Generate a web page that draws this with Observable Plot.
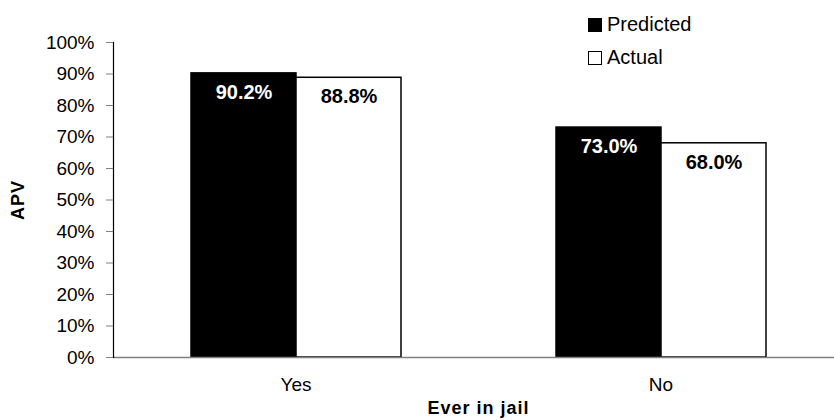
<!DOCTYPE html>
<html>
<head>
<meta charset="utf-8">
<script src="https://cdn.jsdelivr.net/npm/d3@7"></script>
<script src="https://cdn.jsdelivr.net/npm/@observablehq/plot@0.6"></script>
<style>
  body { margin: 0; background: #fff; font-family: "Liberation Sans", Arial, sans-serif; }
  #wrap { position: relative; width: 834px; height: 420px; }
  #legend { position: absolute; left: 588px; top: 8px; font-size: 20px; color: #000; line-height: 33px; }
  #legend .item { display: flex; align-items: center; white-space: nowrap; }
  #legend .sw { width: 12px; height: 12px; border: 1px solid #000; margin-right: 5px; box-sizing: content-box; }
  svg { overflow: visible; }
</style>
</head>
<body>
<div id="wrap"></div>
<script>
const categories = ["Yes", "No"];
const series = ["Predicted", "Actual"];
const predicted = [0.902, 0.730];
const actual = [0.888, 0.680];
const yTicks = [0, 0.1, 0.2, 0.3, 0.4, 0.5, 0.6, 0.7, 0.8, 0.9, 1.0];
const xTitle = "Ever in jail";
const yTitle = "APV";

const data = categories.flatMap((c, i) => [
  {cat: c, series: series[0], value: predicted[i]},
  {cat: c, series: series[1], value: actual[i]}
]);

const font = "Liberation Sans, Arial, sans-serif";

const chart = Plot.plot({
  width: 834,
  height: 420,
  marginLeft: 113,
  marginRight: -9,
  marginTop: 42,
  marginBottom: 63,
  style: {fontFamily: font, background: "white", color: "black"},
  fx: {domain: categories, padding: 0, label: null, axis: null},
  x: {domain: series, paddingInner: 0, paddingOuter: 0.738, axis: null},
  y: {domain: [0, 1], label: null},
  color: {domain: series, range: ["black", "white"]},
  marks: [
    Plot.barY(data, {fx: "cat", x: "series", y: "value", fill: "series", stroke: "black", strokeWidth: 1.5}),
    Plot.ruleY([0], {stroke: "#808080", strokeWidth: 1.5}),
    Plot.frame({anchor: "left", facetAnchor: "left", stroke: "#000", strokeWidth: 1.2}),
    Plot.axisY({ticks: yTicks, tickFormat: d3.format(".0%"), tickSize: 7, tickPadding: 12, fontSize: 19, stroke: "#808080", label: null, facetAnchor: "left"}),
    Plot.axisFx({anchor: "bottom", tickSize: 0, tickPadding: 20, fontSize: 19, label: null}),
    Plot.text(data, {fx: "cat", x: "series", y: "value", text: d => d3.format(".1%")(d.value),
      fill: d => d.series === "Predicted" ? "white" : "black", fontWeight: "bold", fontSize: 20, dy: 19}),
    Plot.text([yTitle], {frameAnchor: "left", facetAnchor: "left", dx: -95, rotate: -90, fontWeight: "bold", fontSize: 18, textAnchor: "middle"}),
    Plot.text([xTitle], {frameAnchor: "bottom-right", facetAnchor: "left", textAnchor: "middle", lineAnchor: "bottom", dy: 56, fontWeight: "bold", fontSize: 18})
  ]
});

const wrap = document.getElementById("wrap");
wrap.appendChild(chart);
d3.select(chart).selectAll("text").filter(function() { return this.textContent === xTitle || this.textContent === yTitle; })
  .style("letter-spacing", "1px");

const legend = document.createElement("div");
legend.id = "legend";
series.forEach((s, i) => {
  const it = document.createElement("div");
  it.className = "item";
  const sw = document.createElement("span");
  sw.className = "sw";
  sw.style.background = i === 0 ? "#000" : "#fff";
  const t = document.createElement("span");
  t.textContent = s;
  it.appendChild(sw);
  it.appendChild(t);
  legend.appendChild(it);
});
wrap.appendChild(legend);
</script>
</body>
</html>
